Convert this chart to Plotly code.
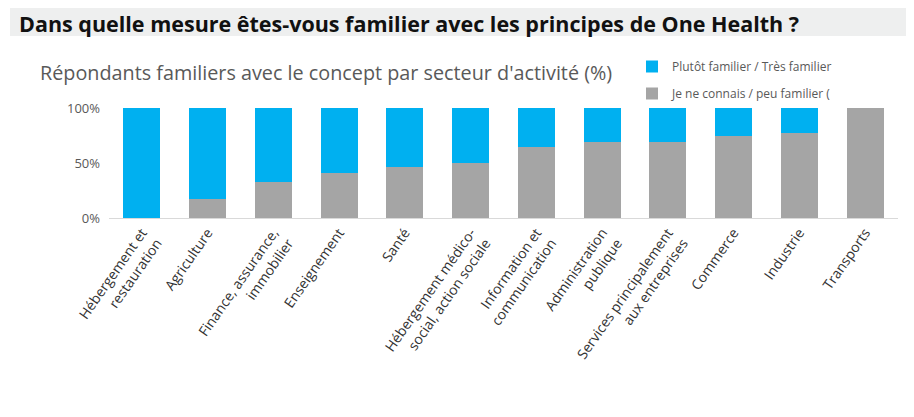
import plotly.graph_objects as go

categories = [
    "Hébergement et<br>restauration",
    "Agriculture",
    "Finance, assurance,<br>immobilier",
    "Enseignement",
    "Santé",
    "Hébergement médico-<br>social, action sociale",
    "Information et<br>communication",
    "Administration<br>publique",
    "Services principalement<br>aux entreprises",
    "Commerce",
    "Industrie",
    "Transports",
]
peu_familier = [0, 17, 33, 41, 46, 50, 65, 69, 69, 75, 77, 100]
familier = [100 - v for v in peu_familier]

name_fam = "Plutôt familier / Très familier"
name_peu = "Je ne connais / peu familier ("

W, H = 914, 417
L, R, T, B = 101, 24, 100, 207
PW = W - L - R
PH = H - T - B


def px(x):
    return (x - L) / PW


def py(y):
    return 1 + (T - y) / PH


fig = go.Figure()
fig.add_trace(go.Bar(x=categories, y=peu_familier, name=name_peu, legendgroup="b", legendrank=2,
                     marker=dict(color="#A5A5A5", line=dict(width=0))))
fig.add_trace(go.Bar(x=categories, y=familier, name=name_fam, legendgroup="a", legendrank=1,
                     marker=dict(color="#00B0F0", line=dict(width=0))))

fig.update_layout(
    barmode="stack",
    bargap=0.44,
    width=W, height=H,
    margin=dict(l=L, r=R, t=T, b=B),
    paper_bgcolor="white", plot_bgcolor="white",
    showlegend=True,
    legend=dict(x=px(624), y=py(44), xanchor="left", yanchor="top",
                traceorder="grouped", tracegroupgap=8,
                font=dict(family="Open Sans", size=12, color="#595959"),
                itemwidth=30, bgcolor="rgba(0,0,0,0)"),
    xaxis=dict(tickangle=-55, tickfont=dict(family="Open Sans", size=14, color="#333333"),
               showline=True, linecolor="#D9D9D9", linewidth=1, ticks=""),
    yaxis=dict(range=[0, 100], tickvals=[0, 50, 100], ticktext=["0%", "50%", "100%"],
               showgrid=False, zeroline=False, showline=False,
               tickfont=dict(family="Open Sans", size=13, color="#595959"),
               ticklabelstandoff=8),
    shapes=[dict(type="rect", xref="paper", yref="paper", x0=px(2), x1=px(906),
                 y0=py(28), y1=py(-5), fillcolor="#EEEFEF", line=dict(width=0), layer="below")],
    annotations=[
        dict(text="<b>Dans quelle mesure êtes-vous familier avec les principes de One Health ?</b>",
             xref="paper", yref="paper", x=px(9), y=py(15), xanchor="left", yanchor="middle",
             showarrow=False, font=dict(family="Open Sans", size=21.5, color="#111111")),
        dict(text="Répondants familiers avec le concept par secteur d'activité (%)",
             xref="paper", yref="paper", x=px(30), y=py(64), xanchor="left", yanchor="middle",
             showarrow=False, font=dict(family="Open Sans", size=19.8, color="#595959")),
    ],
)

fig.write_html("out.html")
